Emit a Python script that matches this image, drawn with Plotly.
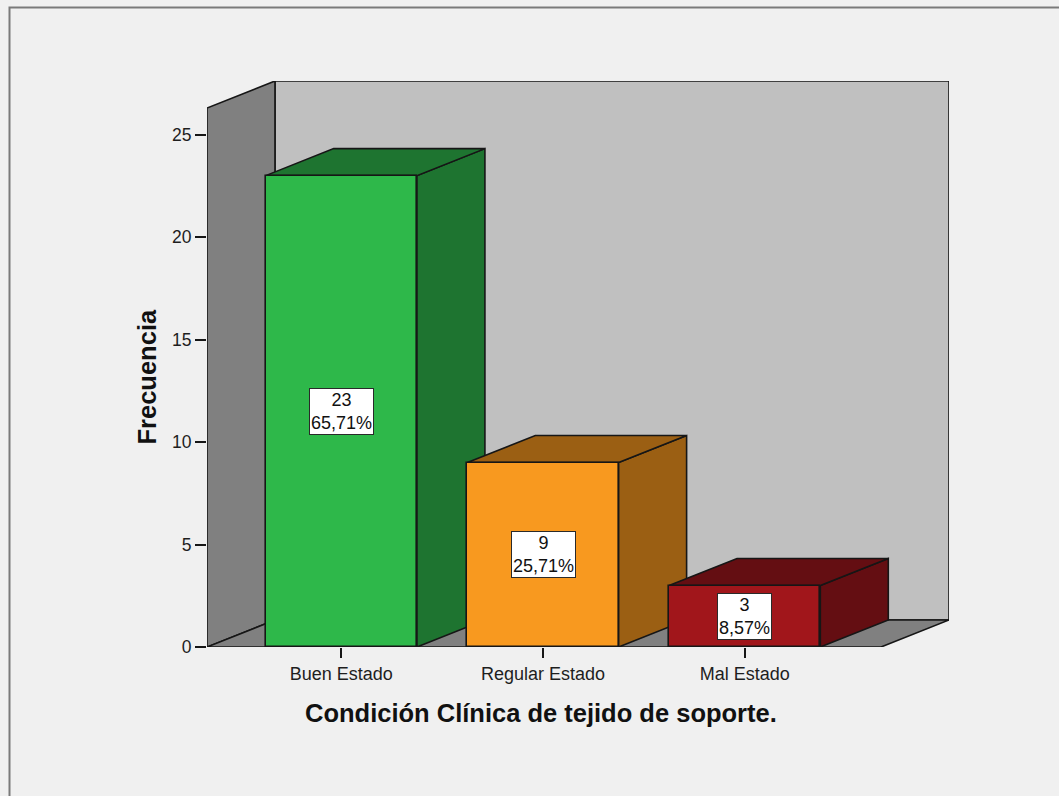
import plotly.graph_objects as go

# Frequency table: clinical condition of supporting tissue
categories = ["Buen Estado", "Regular Estado", "Mal Estado"]
frequencies = [23, 9, 3]
percent_labels = ["65,71%", "25,71%", "8,57%"]
y_ticks = [0, 5, 10, 15, 20, 25]

front_colors = ["#2EB84A", "#F8991F", "#A1161B"]
shade_colors = ["#1E7430", "#9B5F13", "#640E12"]

# Pseudo-3D frame geometry (data units)
BAR_W = 0.75
DEPTH_X = 0.337
DEPTH_Y = 1.317
X_LEFT, X_RIGHT = -0.666, 2.676
WALL_TOP = 26.3

EDGE = dict(color="#161616", width=1.6)
FONT = "Liberation Sans, Arial, sans-serif"


def path(points):
    return "M " + " L ".join(f"{x:.4f},{y:.4f}" for x, y in points) + " Z"


shapes = []
# back wall
shapes.append(dict(type="path", xref="x", yref="y", layer="below",
                   path=path([(X_LEFT + DEPTH_X, DEPTH_Y), (X_RIGHT + DEPTH_X, DEPTH_Y),
                              (X_RIGHT + DEPTH_X, WALL_TOP + DEPTH_Y),
                              (X_LEFT + DEPTH_X, WALL_TOP + DEPTH_Y)]),
                   fillcolor="#C0C0C0", line=EDGE))
# left wall
shapes.append(dict(type="path", xref="x", yref="y", layer="below",
                   path=path([(X_LEFT, 0), (X_LEFT, WALL_TOP),
                              (X_LEFT + DEPTH_X, WALL_TOP + DEPTH_Y),
                              (X_LEFT + DEPTH_X, DEPTH_Y)]),
                   fillcolor="#808080", line=EDGE))
# floor
shapes.append(dict(type="path", xref="x", yref="y", layer="below",
                   path=path([(X_LEFT, 0), (X_RIGHT, 0),
                              (X_RIGHT + DEPTH_X, DEPTH_Y), (X_LEFT + DEPTH_X, DEPTH_Y)]),
                   fillcolor="#808080", line=EDGE))

# side and top faces of each bar, drawn left to right
for i, v in enumerate(frequencies):
    x0, x1 = i - BAR_W / 2, i + BAR_W / 2
    shapes.append(dict(type="path", xref="x", yref="y", layer="below",
                       path=path([(x1, 0), (x1 + DEPTH_X, DEPTH_Y),
                                  (x1 + DEPTH_X, v + DEPTH_Y), (x1, v)]),
                       fillcolor=shade_colors[i], line=EDGE))
    shapes.append(dict(type="path", xref="x", yref="y", layer="below",
                       path=path([(x0, v), (x1, v), (x1 + DEPTH_X, v + DEPTH_Y),
                                  (x0 + DEPTH_X, v + DEPTH_Y)]),
                       fillcolor=shade_colors[i], line=EDGE))

# outer frame of the chart panel
shapes.append(dict(type="rect", xref="paper", yref="paper", layer="above",
                   x0=(9.5 - 207) / 742, x1=(1075 - 207) / 742,
                   y0=(647 - 810) / 566, y1=(647 - 7.5) / 566,
                   line=dict(color="#7A7A7A", width=2), fillcolor="rgba(0,0,0,0)"))

fig = go.Figure()
fig.add_trace(go.Bar(
    x=list(range(len(categories))), y=frequencies, width=BAR_W,
    marker=dict(color=front_colors, line=EDGE),
    hoverinfo="skip", showlegend=False,
))

annotations = []
for i, (v, p) in enumerate(zip(frequencies, percent_labels)):
    annotations.append(dict(
        x=i, y=v / 2, xref="x", yref="y", text=f"{v}<br>{p}", showarrow=False,
        font=dict(family=FONT, size=18, color="#111111"),
        bgcolor="#FFFFFF", bordercolor="#2A2A2A", borderwidth=1, borderpad=1,
    ))

annotations.append(dict(
    x=0.99, y=0, xref="x", yref="paper", yshift=-66, yanchor="middle",
    text="<b>Condición Clínica de tejido de soporte.</b>", showarrow=False,
    font=dict(family=FONT, size=25.5, color="#111111"),
))
annotations.append(dict(
    x=X_LEFT, y=WALL_TOP / 2, xref="x", yref="y", xshift=-61, xanchor="center",
    text="<b>Frecuencia</b>", textangle=-90, showarrow=False,
    font=dict(family=FONT, size=25.5, color="#111111"),
))

fig.update_layout(
    width=1059, height=796,
    margin=dict(l=207, r=110, t=81, b=149),
    paper_bgcolor="#F0F0F0", plot_bgcolor="rgba(0,0,0,0)",
    shapes=shapes, annotations=annotations, bargap=0,
    xaxis=dict(range=[X_LEFT, X_RIGHT + DEPTH_X], tickvals=list(range(len(categories))),
               ticktext=categories, ticks="outside", ticklen=10, tickwidth=1.6,
               tickcolor="#161616", showgrid=False, zeroline=False, showline=False,
               tickfont=dict(family=FONT, size=18, color="#1E1E1E"), fixedrange=True),
    yaxis=dict(range=[0, WALL_TOP + DEPTH_Y], tickvals=y_ticks, ticks="outside",
               ticklen=11, tickwidth=1.6, tickcolor="#161616", showgrid=False,
               zeroline=False, showline=False,
               tickfont=dict(family=FONT, size=17.5, color="#1E1E1E"), fixedrange=True),
)

fig.write_html("out.html")
